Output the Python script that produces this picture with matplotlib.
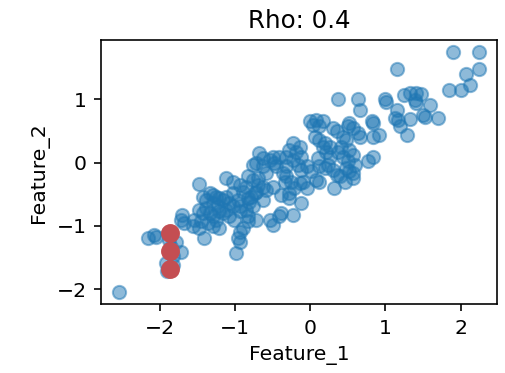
import numpy as np
import matplotlib
matplotlib.use("Agg")
import matplotlib.pyplot as plt

# Observed sample (Feature_1, Feature_2)
feature_1 = [
    -2.54, 1.90, 2.24, 2.24, 2.07, 1.15, 0.37, 0.64, 0.66, 1.00,
    1.01, 1.24, 1.33, 1.40, 1.47, 1.84, 2.01, 2.13, 1.39, 1.41,
    1.59, 1.50, 1.52, 1.70, 1.15, 1.12, 1.17, 1.32, 1.28, 1.19,
    0.82, 0.84, 0.83, 0.91, 0.77, 0.84, 0.52, 0.50, 0.57, 0.64,
    0.66, 0.30, 0.35, 0.44, 0.48, 0.41, 0.52, 0.57, -0.01, 0.08,
    0.17, 0.12, 0.04, 0.06, 0.12, 0.19, 0.26, 0.21, 0.26, 0.30,
    0.35, 0.39, 0.32, 0.48, 0.57, 0.57, 0.52, 0.46, -0.23, -0.14,
    -0.28, -0.32, -0.23, -0.16, -0.12, -0.05, 0.01, 0.08, 0.12, -0.10,
    -0.05, -0.14, -0.36, -0.32, -0.25, -0.21, -0.28, -0.39, -0.50, -0.45,
    -0.54, -0.50, -0.63, -0.68, -0.76, -0.72, -0.63, -0.59, -0.70, -0.76,
    -0.70, -0.63, -0.59, -0.72, -0.74, -0.63, -0.79, -0.83, -1.12, -1.03,
    -0.94, -0.85, -0.90, -0.81, -0.76, -0.85, -0.83, -0.72, -0.54, -0.50,
    -0.41, -0.39, -0.23, -0.12, -0.28, -1.48, -1.43, -1.39, -1.34, -1.30,
    -1.25, -1.21, -1.16, -1.12, -1.08, -1.03, -0.96, -0.94, -1.03, -1.48,
    -1.43, -1.39, -1.34, -1.30, -1.25, -1.21, -1.16, -1.12, -1.08, -1.01,
    -0.94, -1.54, -1.45, -1.36, -1.30, -1.21, -1.70, -1.68, -1.72, -1.56,
    -1.48, -1.41, -0.94, -0.90, -0.96, -0.94, -0.99, -0.83, -2.16, -2.08,
    -2.05, -1.89, -1.88, -1.85, -1.79, -1.72, -1.92, -1.90, -1.83, -1.83,
    0.10, 0.17, 0.37, 0.44, 0.50, 0.59, 0.24, 0.19, 0.12, -0.19,
    -0.32, -0.12, -0.48, -0.41, -0.34, -1.30, -1.23, -0.83,
]
feature_2 = [
    -2.05, 1.74, 1.74, 1.48, 1.39, 1.48, 1.00, 1.01, 0.83, 1.01,
    0.96, 1.06, 1.09, 1.09, 1.08, 1.15, 1.15, 1.23, 0.99, 0.94,
    0.91, 0.75, 0.72, 0.70, 0.83, 0.70, 0.67, 0.69, 0.44, 0.57,
    0.65, 0.62, 0.41, 0.44, 0.03, 0.09, 0.62, 0.58, 0.54, 0.46,
    0.41, 0.54, 0.49, 0.41, 0.36, 0.25, 0.20, 0.12, 0.65, 0.67,
    0.65, 0.57, 0.59, 0.41, 0.36, 0.31, 0.25, 0.17, 0.09, -0.12,
    -0.19, -0.22, -0.41, -0.09, -0.17, -0.25, -0.14, -0.30, 0.31, 0.25,
    0.20, 0.09, 0.04, -0.04, -0.12, -0.06, -0.14, -0.27, -0.30, -0.30,
    -0.41, -0.33, -0.17, -0.22, -0.30, -0.41, -0.48, -0.51, -0.38, -0.06,
    0.04, 0.09, 0.07, 0.15, -0.04, -0.01, -0.06, -0.17, -0.25, -0.27,
    -0.35, -0.38, -0.43, -0.46, -0.48, -0.59, -0.54, -0.56, -0.25, -0.30,
    -0.35, -0.38, -0.46, -0.62, -0.69, -0.75, -0.85, -0.91, -0.91, -0.98,
    -0.85, -0.80, -0.83, -0.64, -0.56, -0.34, -0.54, -0.59, -0.48, -0.51,
    -0.54, -0.56, -0.59, -0.54, -0.64, -0.69, -0.59, -0.69, -0.48, -0.75,
    -0.80, -0.72, -0.80, -0.85, -0.91, -0.77, -0.80, -0.75, -0.85, -0.91,
    -0.77, -0.91, -0.93, -0.96, -1.01, -1.04, -0.83, -0.96, -0.91, -1.01,
    -1.04, -1.19, -1.09, -1.04, -1.19, -1.25, -1.43, -0.93, -1.19, -1.14,
    -1.17, -1.12, -1.22, -1.33, -1.25, -1.41, -1.59, -1.72, -1.62, -1.48,
    0.07, 0.25, 0.17, 0.09, 0.02, -0.04, -0.04, -0.09, -0.06, 0.17,
    -0.06, 0.09, -0.01, 0.09, -0.30, -0.64, -0.69, -0.22,
]

# Highlighted observations
highlight_1 = [-1.86, -1.86, -1.86]
highlight_2 = [-1.12, -1.39, -1.68]

fig = plt.figure(figsize=(505 / 147, 373 / 147), dpi=147)
ax = fig.add_axes([0.2006, 0.184, 0.783, 0.708])

ax.scatter(feature_1, feature_2, s=42, color="#1f77b4", alpha=0.5)
ax.scatter(highlight_1, highlight_2, s=68, color="#c44e52")

ax.set_xlabel("Feature_1")
ax.set_ylabel("Feature_2")
ax.set_title("Rho: 0.4")

fig.savefig("out.png", dpi=147)
